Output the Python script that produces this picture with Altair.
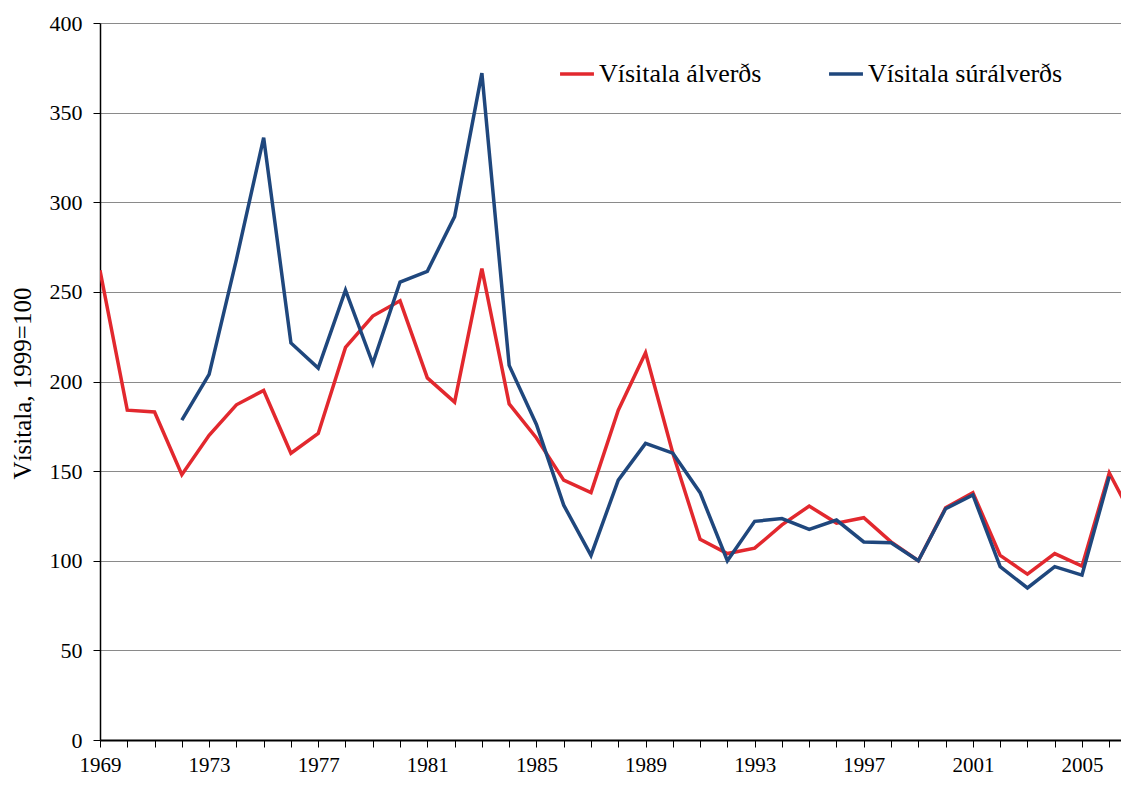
import altair as alt
import pandas as pd

years_al = list(range(1969, 2008))
alverd = [262, 184, 183, 148, 170, 187, 195, 160, 171, 219, 236.5, 245, 202, 188.5,
          263, 187.5, 168.5, 145, 138, 184, 216, 160, 112, 104, 107, 120, 130.5, 121,
          124, 110.5, 100, 129.5, 138, 103, 92.5, 104, 97, 149, 120]

years_sur = list(range(1972, 2007))
suralverd = [178.5, 204, 268, 336, 221.5, 207.5, 251, 210, 255.5, 261.5, 292, 372,
             209, 176, 131, 103, 145, 165.5, 160, 138, 100, 122, 123.5, 117.5, 122.7,
             110.5, 110, 100, 129, 136.7, 96.7, 84.8, 96.7, 92, 147]

name_al = "Vísitala álverðs"
name_sur = "Vísitala súrálverðs"
y_title = "Vísitala, 1999=100"

df_al = pd.DataFrame({"year": years_al, "value": alverd, "series": name_al})
df_sur = pd.DataFrame({"year": years_sur, "value": suralverd, "series": name_sur})

FONT = "Liberation Serif"

color_scale = alt.Scale(domain=[name_al, name_sur], range=["#E2282E", "#1F477D"])

x_enc = alt.X(
    "year:Q",
    scale=alt.Scale(domain=[1969, 2006.43], nice=False, zero=False),
    axis=alt.Axis(
        values=list(range(1969, 2007)),
        labelExpr="(datum.value - 1969) % 4 == 0 ? datum.value : ''",
        format="d",
        grid=False,
        title=None,
        tickSize=7,
        tickColor="black",
        tickWidth=1,
        domainColor="black",
        domainWidth=2,
        labelFont=FONT,
        labelFontSize=21,
        labelColor="black",
        labelPadding=7,
        labelFlush=False,
        labelOverlap=False,
    ),
)

y_enc = alt.Y(
    "value:Q",
    scale=alt.Scale(domain=[0, 400], nice=False),
    axis=alt.Axis(
        values=list(range(0, 401, 50)),
        grid=True,
        gridColor="#8A8A8A",
        gridWidth=1,
        title=y_title,
        titleFont=FONT,
        titleFontSize=25,
        titleFontWeight="normal",
        titleColor="black",
        titleAngle=-90,
        titleX=-78,
        titleY=360,
        titleAlign="center",
        titleBaseline="middle",
        tickSize=7,
        tickColor="black",
        domainColor="black",
        domainWidth=1.5,
        labelFont=FONT,
        labelFontSize=22,
        labelColor="black",
        labelPadding=11,
    ),
)

legend = alt.Legend(
    orient="none",
    legendX=458,
    legendY=32,
    direction="horizontal",
    title=None,
    symbolType="stroke",
    symbolSize=1150,
    symbolStrokeWidth=3.5,
    labelFont=FONT,
    labelFontSize=26,
    labelColor="black",
    labelLimit=400,
    labelOffset=3,
    columnPadding=60,
)

color_enc = alt.Color("series:N", scale=color_scale, legend=legend)

red = alt.Chart(df_al).mark_line(strokeWidth=3.5, clip=True).encode(
    x=x_enc, y=y_enc, color=color_enc
)

blue = alt.Chart(df_sur).mark_line(strokeWidth=3.5, clip=True).encode(
    x=x_enc, y=y_enc, color=color_enc
)

chart = (
    alt.layer(red, blue)
    .properties(
        width=1021,
        height=717,
        autosize=alt.AutoSizeParams(type="none"),
        padding={"left": 92, "top": 15, "right": 0, "bottom": 37},
        background="white",
    )
    .configure_view(stroke=None)
)

chart.save("out.html", embed_options={"renderer": "svg", "actions": False})
